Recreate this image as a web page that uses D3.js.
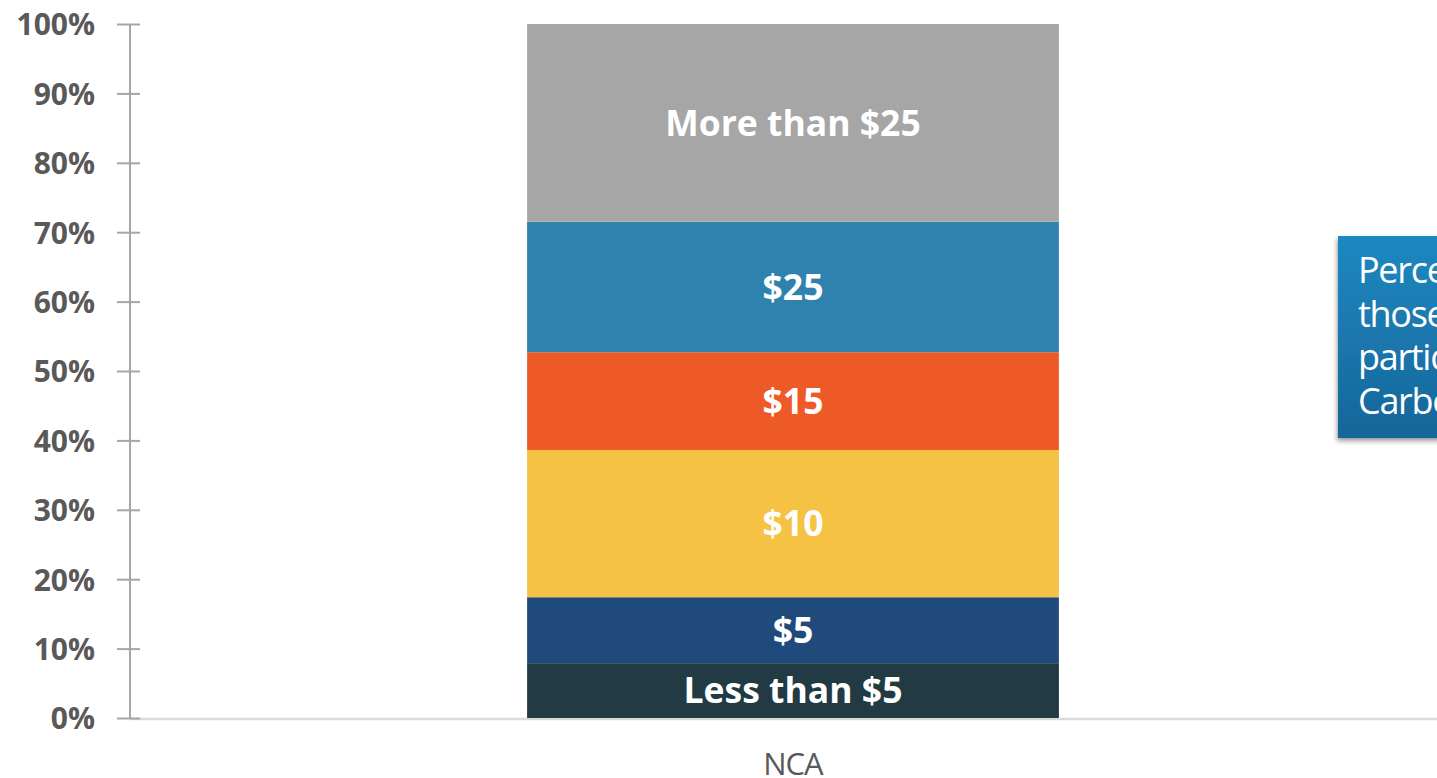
<!DOCTYPE html>
<html>
<head>
<meta charset="utf-8">
<script src="https://cdn.jsdelivr.net/npm/d3@7/dist/d3.min.js"></script>
<style>
  html, body { margin: 0; padding: 0; background: #fff; overflow: hidden; }
  svg { display: block; }
</style>
</head>
<body>
<svg id="chart" width="1437" height="778"></svg>
<script>
const categories = ["NCA"];
const segmentNames = ["Less than $5", "$5", "$10", "$15", "$25", "More than $25"];
const segmentValues = [7.9, 9.5, 21.2, 14.1, 18.8, 28.5];
const segmentColors = ["#223a44", "#204a7c", "#f5c243", "#ee5a27", "#2f82ae", "#a6a6a6"];
const tickValues = [0, 10, 20, 30, 40, 50, 60, 70, 80, 90, 100];
const tickLabels = ["0%", "10%", "20%", "30%", "40%", "50%", "60%", "70%", "80%", "90%", "100%"];
const calloutLines = ["Percentage of", "those willing to", "participate in", "Carbon offsets"];

const svg = d3.select("#chart");
const W = 1437, H = 778;
const axisX = 130;

const y = d3.scaleLinear().domain([0, 100]).range([718, 24]);
const x = d3.scaleBand().domain(categories).range([axisX, 1456]).padding(0.4275);

// stacked data
let cum = 0;
const stacked = segmentNames.map((n, i) => {
  const d = { name: n, y0: cum, y1: cum + segmentValues[i], color: segmentColors[i] };
  cum += segmentValues[i];
  return d;
});
const total = cum;
stacked.forEach(d => { d.y0 = d.y0 / total * 100; d.y1 = d.y1 / total * 100; });

// baseline (category axis)
svg.append("line")
  .attr("x1", axisX).attr("x2", W)
  .attr("y1", y(0) + 1).attr("y2", y(0) + 1)
  .attr("stroke", "#d9d9d9").attr("stroke-width", 2.5);

// bars
const g = svg.append("g");
categories.forEach(cat => {
  g.selectAll("rect.seg")
    .data(stacked)
    .enter().append("rect")
    .attr("class", "seg")
    .attr("x", x(cat))
    .attr("width", x.bandwidth())
    .attr("y", d => y(d.y1))
    .attr("height", d => y(d.y0) - y(d.y1))
    .attr("fill", d => d.color);

  g.selectAll("text.seglabel")
    .data(stacked)
    .enter().append("text")
    .attr("class", "seglabel")
    .attr("x", x(cat) + x.bandwidth() / 2)
    .attr("y", d => (y(d.y0) + y(d.y1)) / 2)
    .attr("dy", "0.36em")
    .attr("text-anchor", "middle")
    .attr("fill", "#ffffff")
    .attr("font-family", "'Open Sans', sans-serif")
    .attr("font-weight", 700)
    .attr("font-size", 35.5)
    .text(d => d.name);
});

// y axis
const yAxis = d3.axisLeft(y)
  .tickValues(tickValues)
  .tickFormat((d, i) => tickLabels[i])
  .tickSize(13)
  .tickPadding(22);
const ax = svg.append("g").attr("transform", `translate(${axisX},0)`).call(yAxis);
ax.select(".domain").attr("stroke", "#a6a6a6").attr("stroke-width", 2)
  .attr("d", `M0,${y(0)}V${y(100)}`);
ax.selectAll(".tick line").attr("stroke", "#a6a6a6").attr("stroke-width", 2)
  .attr("x1", -13).attr("x2", 10);
ax.selectAll(".tick text")
  .attr("fill", "#595959")
  .attr("font-family", "'Open Sans', sans-serif")
  .attr("font-weight", 700)
  .attr("font-size", 30)
  .attr("x", -35)
  .attr("dy", "0.36em");

// category label
svg.append("g").selectAll("text.cat")
  .data(categories)
  .enter().append("text")
  .attr("class", "cat")
  .attr("x", d => x(d) + x.bandwidth() / 2)
  .attr("y", 775)
  .attr("text-anchor", "middle")
  .attr("fill", "#595959")
  .attr("font-family", "'Open Sans', sans-serif")
  .attr("font-size", 31)
  .attr("letter-spacing", -1)
  .text(d => d);

// callout box
const defs = svg.append("defs");
const grad = defs.append("linearGradient").attr("id", "cg")
  .attr("x1", 0).attr("y1", 0).attr("x2", 0).attr("y2", 1);
grad.append("stop").attr("offset", "0%").attr("stop-color", "#1f88c1");
grad.append("stop").attr("offset", "100%").attr("stop-color", "#16669a");
const filt = defs.append("filter").attr("id", "sh")
  .attr("x", "-10%").attr("y", "-10%").attr("width", "130%").attr("height", "130%");
filt.append("feDropShadow").attr("dx", -1).attr("dy", 3).attr("stdDeviation", 2.5)
  .attr("flood-color", "#000").attr("flood-opacity", 0.4);

svg.append("rect")
  .attr("x", 1338).attr("y", 236)
  .attr("width", 160).attr("height", 202)
  .attr("fill", "url(#cg)")
  .attr("filter", "url(#sh)");

svg.append("g").selectAll("text.call")
  .data(calloutLines)
  .enter().append("text")
  .attr("class", "call")
  .attr("x", 1358)
  .attr("y", (d, i) => 283 + i * 43.7)
  .attr("fill", "#ffffff")
  .attr("font-family", "'Open Sans', sans-serif")
  .attr("font-size", 36)
  .attr("letter-spacing", -1.3)
  .text(d => d);
</script>
</body>
</html>
